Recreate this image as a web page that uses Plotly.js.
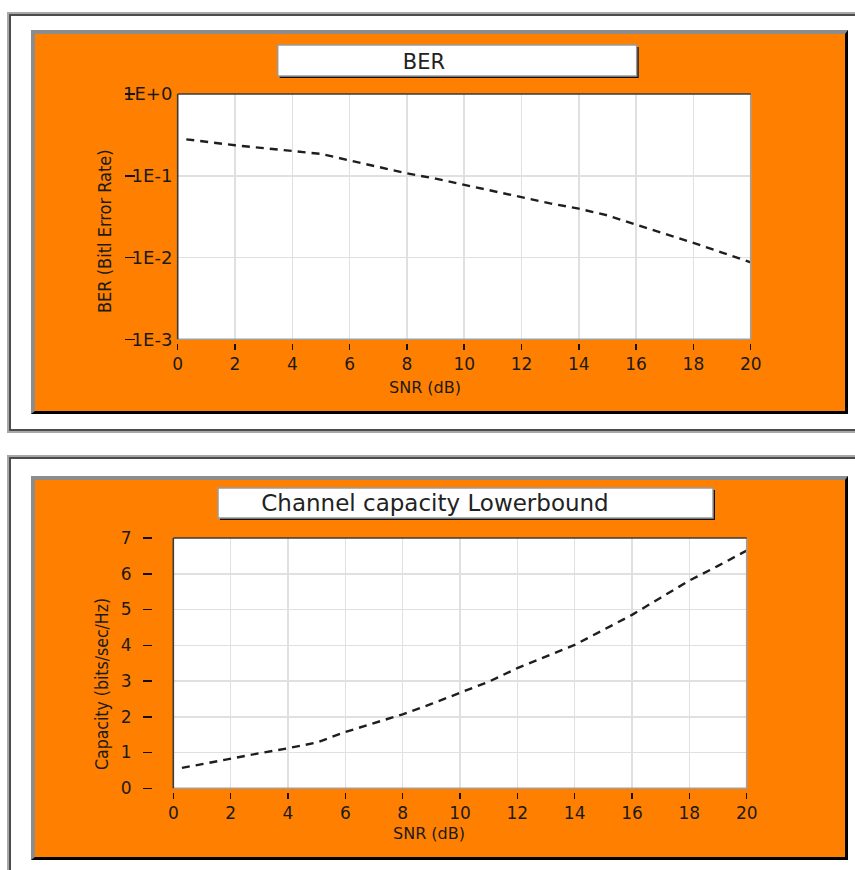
<!DOCTYPE html>
<html><head><meta charset="utf-8">
<script src="https://cdn.plot.ly/plotly-3.0.1.min.js"></script>
<style>
html,body{margin:0;padding:0;background:#fff;width:855px;height:870px;overflow:hidden;position:relative}
.frame{position:absolute;left:7px;width:900px;border:2px solid #a8a8a8;box-sizing:border-box}
.frame .in{position:absolute;left:0;top:0;right:0;bottom:0;border:2px solid #4c4c4c}
.panel{position:absolute;left:31px;width:817px;height:384px;box-sizing:border-box;border-top:4px solid #8c8c8c;border-left:4px solid #8c8c8c;border-right:3px solid #000;border-bottom:3px solid #000;background:#FF8000}
.chart{width:810px;height:377px}
</style></head>
<body>
<div class="frame" style="top:12px;height:421px"><div class="in"></div></div>
<div class="frame" style="top:455px;height:450px"><div class="in"></div></div>
<div class="panel" style="top:30px"><div id="ber" class="chart"></div></div>
<div class="panel" style="top:476px"><div id="cap" class="chart"></div></div>
<script>
// ---- data ----
const snrBER = [0.3, 2, 4, 5, 6, 7, 8, 9, 10, 11, 12, 13, 14, 15, 16, 17, 18, 19, 20];
const berValues = [0.279, 0.236, 0.201, 0.185, 0.154, 0.129, 0.107, 0.0922, 0.0778, 0.0645, 0.0545, 0.046, 0.0396, 0.0328, 0.0252, 0.0196, 0.0151, 0.0115, 0.00874];
const snrCap = [0.3, 2, 3, 4, 5, 6, 7, 8, 9, 10, 11, 12, 13, 14, 15, 16, 17, 18, 19, 20];
const capValues = [0.57, 0.84, 0.98, 1.12, 1.28, 1.575, 1.82, 2.07, 2.36, 2.66, 2.98, 3.36, 3.68, 4.01, 4.43, 4.85, 5.33, 5.81, 6.22, 6.65];
const berTickVals = [1, 0.1, 0.01, 0.001];
const berTickText = ['1E+0', '1E-1', '1E-2', '1E-3'];
const capTickVals = [0, 1, 2, 3, 4, 5, 6, 7];
const capTickText = ['0', '1', '2', '3', '4', '5', '6', '7'];
const berTitle = 'BER';
const capTitle = 'Channel capacity Lowerbound';
const xTitle = 'SNR (dB)';
const berYTitle = 'BER (Bitl Error Rate)';
const capYTitle = 'Capacity (bits/sec/Hz)';

// ---- layout helpers ----
const W = 810, H = 377;
const FONT = 'DejaVu Sans, Verdana, sans-serif';
const NARROW = 'DejaVu Sans Condensed, Liberation Sans Narrow, Arial Narrow, Liberation Sans, sans-serif';
function fx(m, x) { return (x - m.l) / (W - m.l - m.r); }
function fy(m, y) { return (H - m.b - y) / (H - m.t - m.b); }

function buildLayout(m, o) {
  const xd = [fx(m, o.px0), fx(m, o.px1)];
  const yd = [fy(m, o.py1), fy(m, o.py0)];
  const lineShape = (x0, y0, x1, y1, c) => ({type: 'line', xref: 'paper', yref: 'paper', x0, y0, x1, y1, line: {color: c, width: 1.6}, layer: 'above'});
  return {
    width: W, height: H,
    margin: {l: m.l, r: m.r, t: m.t, b: m.b, pad: 0},
    paper_bgcolor: '#FF8000', plot_bgcolor: '#ffffff',
    showlegend: false,
    title: {text: o.title, font: {family: FONT, size: o.titleSize, color: '#222'}, xref: 'container', yref: 'container',
            x: o.titleX / W, y: 1 - o.titleY / H, xanchor: 'center', yanchor: 'middle'},
    xaxis: {
      domain: xd, anchor: 'free', position: fy(m, o.xTickTop), range: [0, 20], tick0: 0, dtick: 2,
      ticks: 'outside', ticklen: 6, tickwidth: 1.5, tickcolor: '#111', showline: false, zeroline: false,
      showgrid: true, gridcolor: '#e0e0e0', gridwidth: 1.5,
      tickfont: {family: FONT, size: 17, color: '#1a1a1a'},
      title: {text: ''}
    },
    yaxis: {
      type: o.yType, range: o.yRange, tickvals: o.tickVals, ticktext: o.tickText, tickmode: 'array',
      domain: yd, anchor: 'free', position: fx(m, o.yTickRight),
      ticks: 'outside', ticklen: o.yTickLen, tickwidth: 1.5, tickcolor: '#111', showline: false, zeroline: false,
      showgrid: true, gridcolor: '#e0e0e0', gridwidth: 1.5,
      ticklabelstandoff: o.yStandoff,
      tickfont: {family: FONT, size: o.yTickSize, color: '#1a1a1a'},
      title: {text: ''}
    },
    annotations: [
      {text: xTitle, xref: 'paper', yref: 'paper', x: fx(m, o.xTitlePos[0]), y: fy(m, o.xTitlePos[1]),
       xanchor: 'center', yanchor: 'middle', showarrow: false, font: {family: FONT, size: 16, color: '#1a1a1a'}},
      {text: o.yTitle, xref: 'paper', yref: 'paper', x: fx(m, o.yTitlePos[0]), y: fy(m, o.yTitlePos[1]), textangle: -90,
       xanchor: 'center', yanchor: 'middle', showarrow: false, font: {family: NARROW, size: o.yTitleSize, color: '#1a1a1a'}}
    ],
    shapes: [
      {type: 'rect', xref: 'paper', yref: 'paper', x0: fx(m, o.box[0] + 2), x1: fx(m, o.box[2] + 2), y0: fy(m, o.box[3] + 2), y1: fy(m, o.box[1] + 2),
       fillcolor: '#111', line: {width: 0}, layer: 'above'},
      {type: 'rect', xref: 'paper', yref: 'paper', x0: fx(m, o.box[0]), x1: fx(m, o.box[2]), y0: fy(m, o.box[3]), y1: fy(m, o.box[1]),
       fillcolor: '#ffffff', line: {color: '#9a9a9a', width: 1.5}, layer: 'above'},
      lineShape(xd[0], yd[0], xd[1], yd[0], '#a0a0a0'),
      lineShape(xd[1], yd[0], xd[1], yd[1], '#a0a0a0'),
      lineShape(xd[0], yd[1], xd[1], yd[1], '#3a3a3a'),
      lineShape(xd[0], yd[0], xd[0], yd[1], '#3a3a3a')
    ]
  };
}

const lineStyle = {color: '#1e1e1e', width: 2.4, dash: '8px,6px'};

const m1 = {l: 60, r: 40, t: 50, b: 10};
Plotly.newPlot('ber', [{
  x: snrBER, y: berValues, type: 'scatter', mode: 'lines', line: lineStyle, hoverinfo: 'x+y'
}], buildLayout(m1, {
  yType: 'log', yRange: [-3, 0], tickVals: berTickVals, tickText: berTickText, yTickSize: 18,
  px0: 142.7, px1: 715.7, py0: 60, py1: 305.3, xTickTop: 309, yTickRight: 100, yTickLen: 10, yStandoff: -51,
  title: berTitle, titleSize: 21, titleX: 389, titleY: 28, box: [242.7, 11, 601.7, 42],
  yTitle: berYTitle, yTitleSize: 18, xTitlePos: [390, 353], yTitlePos: [69, 197]
}), {staticPlot: true});

const m2 = {l: 60, r: 40, t: 40, b: 10};
Plotly.newPlot('cap', [{
  x: snrCap, y: capValues, type: 'scatter', mode: 'lines', line: lineStyle, hoverinfo: 'x+y'
}], buildLayout(m2, {
  yType: 'linear', yRange: [0, 7], tickVals: capTickVals, tickText: capTickText, yTickSize: 17,
  px0: 138.3, px1: 711.7, py0: 58, py1: 308.3, xTickTop: 312, yTickRight: 117, yTickLen: 9, yStandoff: 8,
  title: capTitle, titleSize: 23, titleX: 400, titleY: 23, box: [183, 8, 678, 38],
  yTitle: capYTitle, yTitleSize: 17.5, xTitlePos: [394, 353], yTitlePos: [67, 204]
}), {staticPlot: true});
</script>
</body></html>
